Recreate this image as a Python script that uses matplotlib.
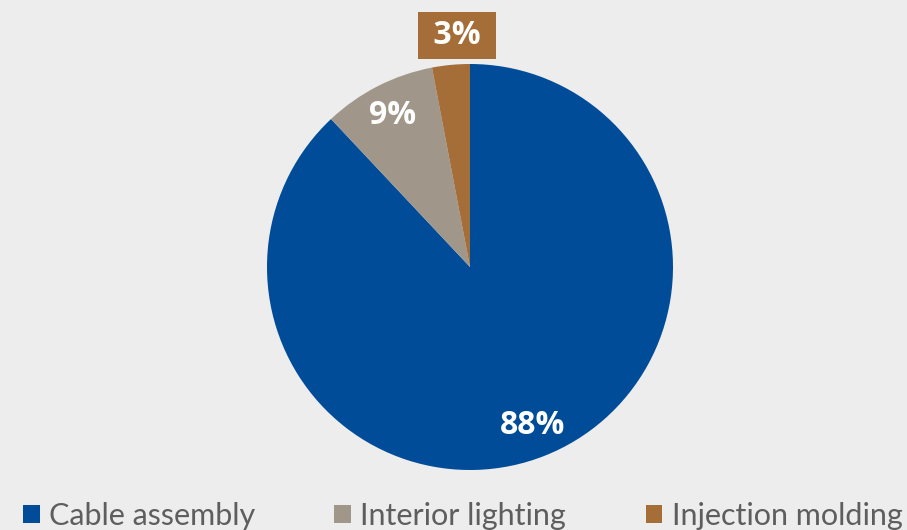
import matplotlib
matplotlib.use("Agg")
import matplotlib.pyplot as plt
from matplotlib.patches import Patch

categories = ["Cable assembly", "Interior lighting", "Injection molding"]
shares = [88, 9, 3]
colors = ["#004C99", "#A0978A", "#A56D38"]
bg = "#EDEDED"

fig = plt.figure(figsize=(9.07, 5.30), dpi=100, facecolor=bg)
ax = fig.add_axes([267 / 907, 60 / 530, 406 / 907, 406 / 530])
ax.set_facecolor(bg)

wedges, texts, autotexts = ax.pie(
    shares, colors=colors, startangle=90, counterclock=False,
    autopct=lambda p: f"{p:.0f}%", pctdistance=0.84,
    wedgeprops=dict(linewidth=0),
    textprops=dict(color="white", fontsize=23, fontweight="bold",
                   family=["Open Sans", "DejaVu Sans"]),
)
ax.set_xlim(-1, 1)
ax.set_ylim(-1, 1)
ax.set_aspect("equal")
ax.axis("off")

# small slice label sits above the pie in a box
small = autotexts[2]
small.set_position((-0.065, 1.14))
small.set_bbox(dict(facecolor=colors[2], edgecolor="none", boxstyle="square,pad=0.22"))
small.set_text(" 3% ")
small.set_clip_on(False)

handles = [Patch(facecolor=c, edgecolor="none") for c in colors]
leg = fig.legend(handles, categories, loc="lower center", ncol=3,
                 bbox_to_anchor=(0.51, 0.0), frameon=False,
                 prop=dict(family=["Lato", "DejaVu Sans"], size=22),
                 handlelength=0.55, handleheight=0.55, handletextpad=0.3,
                 columnspacing=2.6, borderaxespad=0, borderpad=0)
for t in leg.get_texts():
    t.set_color("#5E5E5E")

fig.savefig("out.png", dpi=100, facecolor=bg)
